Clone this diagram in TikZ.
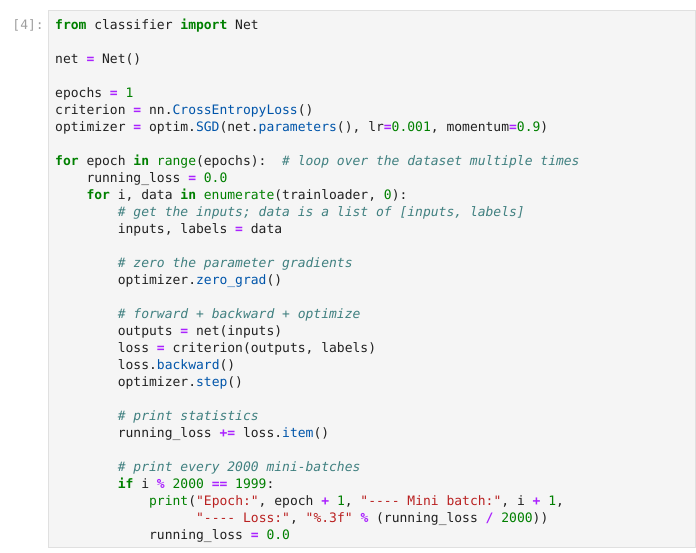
\documentclass[tikz,border=0pt]{standalone}
\usepackage{fontspec}
\newfontfamily\code{DejaVu Sans Mono}
\definecolor{kwc}{HTML}{008000}
\definecolor{opc}{HTML}{AA22FF}
\definecolor{stc}{HTML}{BA2121}
\definecolor{cmc}{HTML}{408080}
\definecolor{prc}{HTML}{0055AA}
\definecolor{txc}{HTML}{212121}
\definecolor{bgc}{HTML}{F5F5F5}
\definecolor{bdc}{HTML}{E0E0E0}
\definecolor{pmc}{HTML}{9E9E9E}
\newcommand\kw[1]{{\bfseries\color{kwc}#1}}
\newcommand\op[1]{{\bfseries\color{opc}#1}}
\newcommand\nm[1]{{\color{kwc}#1}}
\newcommand\st[1]{{\color{stc}#1}}
\newcommand\cm[1]{{\itshape\color{cmc}#1}}
\newcommand\pr[1]{{\color{prc}#1}}
\begin{document}
\begin{tikzpicture}[x=1pt,y=-1pt,
  ln/.style={anchor=base west,inner sep=0pt,font=\code\fontsize{13}{15}\selectfont,text=txc}]
\useasboundingbox (0,0) rectangle (696,552);
\draw[bdc,fill=bgc] (48.5,10.5) rectangle (695.5,547.5);
\node[ln,text=pmc,anchor=base east] (pm) at (44,29) {[4]:};
\def\L#1#2#3{\node[ln] (l#1) at ({55+7.83*#2},{29+17*(#1-1)}) {#3};}
\L{1}{0}{\kw{from} classifier \kw{import} Net}
\L{3}{0}{net \op{=} Net()}
\L{5}{0}{epochs \op{=} \nm{1}}
\L{6}{0}{criterion \op{=} nn.\pr{CrossEntropyLoss}()}
\L{7}{0}{optimizer \op{=} optim.\pr{SGD}(net.\pr{parameters}(), lr\op{=}\nm{0.001}, momentum\op{=}\nm{0.9})}
\L{9}{0}{\kw{for} epoch \kw{in} \nm{range}(epochs):\ \ \cm{\# loop over the dataset multiple times}}
\L{10}{4}{running\_loss \op{=} \nm{0.0}}
\L{11}{4}{\kw{for} i, data \kw{in} \nm{enumerate}(trainloader, \nm{0}):}
\L{12}{8}{\cm{\# get the inputs; data is a list of [inputs, labels]}}
\L{13}{8}{inputs, labels \op{=} data}
\L{15}{8}{\cm{\# zero the parameter gradients}}
\L{16}{8}{optimizer.\pr{zero\_grad}()}
\L{18}{8}{\cm{\# forward + backward + optimize}}
\L{19}{8}{outputs \op{=} net(inputs)}
\L{20}{8}{loss \op{=} criterion(outputs, labels)}
\L{21}{8}{loss.\pr{backward}()}
\L{22}{8}{optimizer.\pr{step}()}
\L{24}{8}{\cm{\# print statistics}}
\L{25}{8}{running\_loss \op{+=} loss.\pr{item}()}
\L{27}{8}{\cm{\# print every 2000 mini-batches}}
\L{28}{8}{\kw{if} i \op{\%} \nm{2000} \op{==} \nm{1999}:}
\L{29}{12}{\nm{print}(\st{"Epoch:"}, epoch \op{+} \nm{1}, \st{"---- Mini batch:"}, i \op{+} \nm{1},}
\L{30}{18}{\st{"---- Loss:"}, \st{"\%.3f"} \op{\%} (running\_loss \op{/} \nm{2000}))}
\L{31}{12}{running\_loss \op{=} \nm{0.0}}
\end{tikzpicture}
\end{document}
